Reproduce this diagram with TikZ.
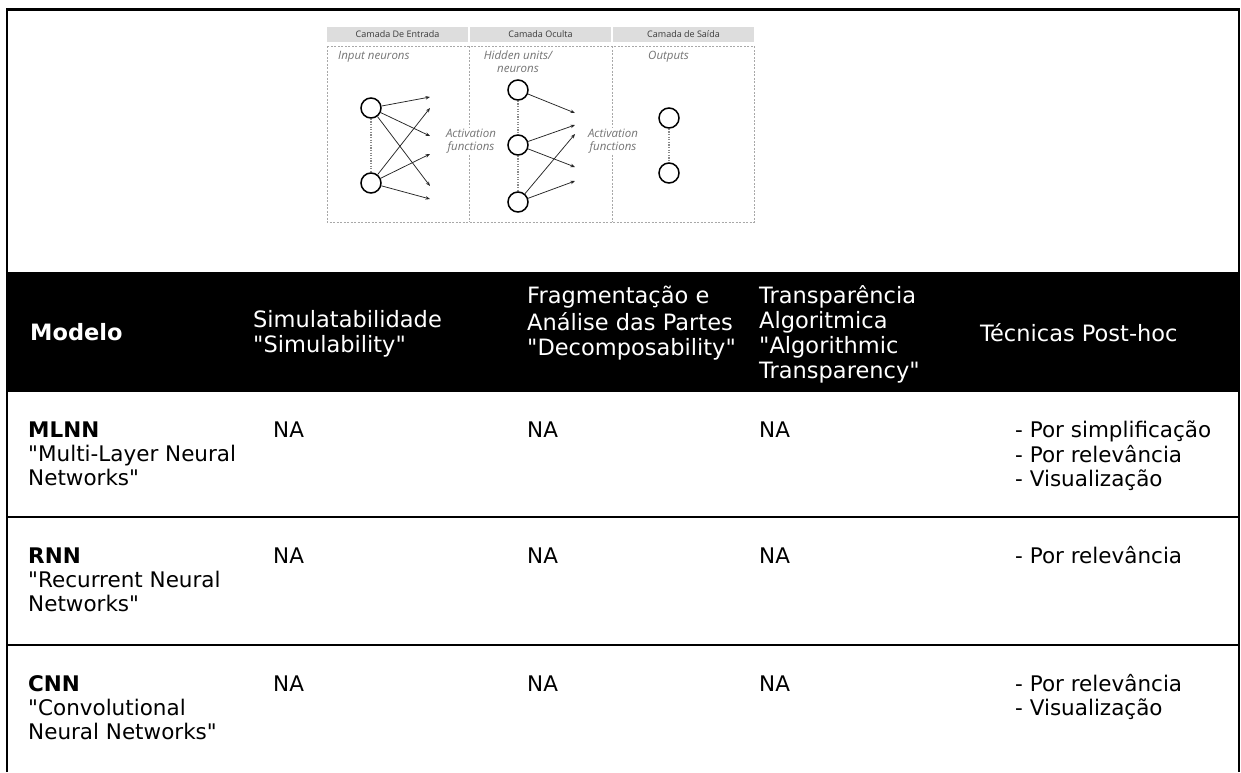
\documentclass[tikz,border=0pt]{standalone}
\usepackage{fontspec}
\setmainfont{DejaVu Sans}
\newfontfamily\diagfont{Open Sans}
\usetikzlibrary{arrows.meta}

\definecolor{barfill}{HTML}{DDDDDD}
\definecolor{dashgray}{HTML}{A8A8A8}
\definecolor{labelgray}{HTML}{747474}
\definecolor{headgray}{HTML}{3A3A3A}
\definecolor{dotgray}{HTML}{8A8A8A}

\newcommand\cellfont{\fontsize{21.5}{24}\selectfont}
\newcommand\headfont{\fontsize{22.5}{25}\selectfont}
\newcommand\q{\textquotedbl}

\begin{document}
\begin{tikzpicture}[x=1pt,y=-1pt,
  cell/.style={inner sep=0pt, anchor=north west, align=left, font=\cellfont},
  headcell/.style={inner sep=0pt, anchor=north west, align=left, font=\headfont, text=white},
  layerbar/.style={fill=barfill, draw=none},
  layerbox/.style={draw=dashgray, line width=0.8pt, dash pattern=on 2pt off 1.5pt},
  layername/.style={font=\diagfont\fontsize{9}{10}\selectfont, text=headgray, inner sep=0pt},
  tag/.style={font=\diagfont\itshape\fontsize{11.5}{12.5}\selectfont, text=labelgray, inner sep=0pt, align=center},
  neuron/.style={circle, draw=black, line width=1.5pt, fill=white, minimum size=20pt, inner sep=0pt},
  link/.style={draw=black!85, line width=0.75pt, -{Stealth[length=4.5pt,width=3.5pt]}},
  skip/.style={draw=dotgray, line width=2.4pt, dash pattern=on 1.3pt off 1.3pt}
]
\useasboundingbox (0,0) rectangle (1241,772);
\fill[white] (0,0) rectangle (1241,772);

% ---------- network sketch ----------
\fill[layerbar] (327,27) rectangle (468,42);
\fill[layerbar] (470,27) rectangle (611,42);
\fill[layerbar] (613,27) rectangle (754,42);
\node[layername] (lin)  at (397.5,34.5) {Camada De Entrada};
\node[layername] (lhid) at (540.5,34.5) {Camada Oculta};
\node[layername] (lout) at (683.5,34.5) {Camada de Saída};

% dashed layer frames, shared walls drawn once
\draw[layerbox] (327,46) rectangle (754,222);
\draw[layerbox] (469,46) -- (469,222);
\draw[layerbox] (612,46) -- (612,222);

\node[tag, anchor=west] (tin) at (338,57) {Input neurons};
\node[tag, anchor=north] (thid) at (518,51) {Hidden units/\\neurons};
\node[tag, anchor=west] (tout) at (648,57) {Outputs};

% input layer
\node[neuron] (i1) at (371,108) {};
\node[neuron] (i2) at (371,183) {};
\draw[skip] (i1.south) -- (i2.north);
\coordinate (ia1) at (430,97);
\coordinate (ia2) at (430,108);
\coordinate (ia3) at (430,136);
\coordinate (ia4) at (430,154);
\coordinate (ia5) at (430,186);
\coordinate (ia6) at (430,199);
\draw[link] (i1) -- (ia1);
\draw[link] (i1) -- (ia3);
\draw[link] (i1) -- (ia5);
\draw[link] (i2) -- (ia2);
\draw[link] (i2) -- (ia4);
\draw[link] (i2) -- (ia6);

% hidden layer
\node[neuron] (h1) at (518,90) {};
\node[neuron] (h2) at (518,145) {};
\node[neuron] (h3) at (518,202) {};
\draw[skip] (h1.south) -- (h2.north);
\draw[skip] (h2.south) -- (h3.north);
\coordinate (ha1) at (575,113);
\coordinate (ha2) at (575,125);
\coordinate (ha3) at (575,134);
\coordinate (ha4) at (575,167);
\coordinate (ha5) at (575,181);
\draw[link] (h1) -- (ha1);
\draw[link] (h2) -- (ha2);
\draw[link] (h3) -- (ha3);
\draw[link] (h2) -- (ha4);
\draw[link] (h3) -- (ha5);

% output layer
\node[neuron] (o1) at (669,118) {};
\node[neuron] (o2) at (669,173) {};
\draw[skip] (o1.south) -- (o2.north);

\node[tag, fill=white, inner sep=1pt] (act1) at (471,141) {Activation\\functions};
\node[tag, fill=white, inner sep=1pt] (act2) at (613,141) {Activation\\functions};

% ---------- table ----------
\fill[black] (7,272) rectangle (1239,392);
\draw[line width=2.5pt] (7,772) -- (7,9.5) -- (1239,9.5) -- (1239,772);
\draw[line width=1.2pt] (7,517) -- (1239,517);
\draw[line width=1.2pt] (7,645) -- (1239,645);

\node[headcell, font=\headfont\bfseries] (hmod) at (30,323) {\strut Modelo};
\node[headcell] (hsim) at (253,310) {\strut Simulatabilidade\\\q Simulability\q};
\node[headcell] (hdec) at (527,286) {\strut Fragmentação e\\Análise das Partes\\\q Decomposability\q};
\node[headcell] (halg) at (759,285) {\strut Transparência\\Algoritmica\\\q Algorithmic\\Transparency\q};
\node[headcell] (hpost) at (980,323) {\strut Técnicas Post-hoc};

\node[cell] (m1) at (28,420) {\strut\textbf{MLNN}\\\q Multi-Layer Neural\\Networks\q};
\node[cell] (m1s) at (273,420) {\strut NA};
\node[cell] (m1d) at (527,420) {\strut NA};
\node[cell] (m1a) at (759,420) {\strut NA};
\node[cell] (m1p) at (1015,420) {\strut - Por simplificação\\- Por relevância\\- Visualização};

\node[cell] (m2) at (28,546) {\strut\textbf{RNN}\\\q Recurrent Neural\\Networks\q};
\node[cell] (m2s) at (273,546) {\strut NA};
\node[cell] (m2d) at (527,546) {\strut NA};
\node[cell] (m2a) at (759,546) {\strut NA};
\node[cell] (m2p) at (1015,546) {\strut - Por relevância};

\node[cell] (m3) at (28,674) {\strut\textbf{CNN}\\\q Convolutional\\Neural Networks\q};
\node[cell] (m3s) at (273,674) {\strut NA};
\node[cell] (m3d) at (527,674) {\strut NA};
\node[cell] (m3a) at (759,674) {\strut NA};
\node[cell] (m3p) at (1015,674) {\strut - Por relevância\\- Visualização};
\end{tikzpicture}
\end{document}
